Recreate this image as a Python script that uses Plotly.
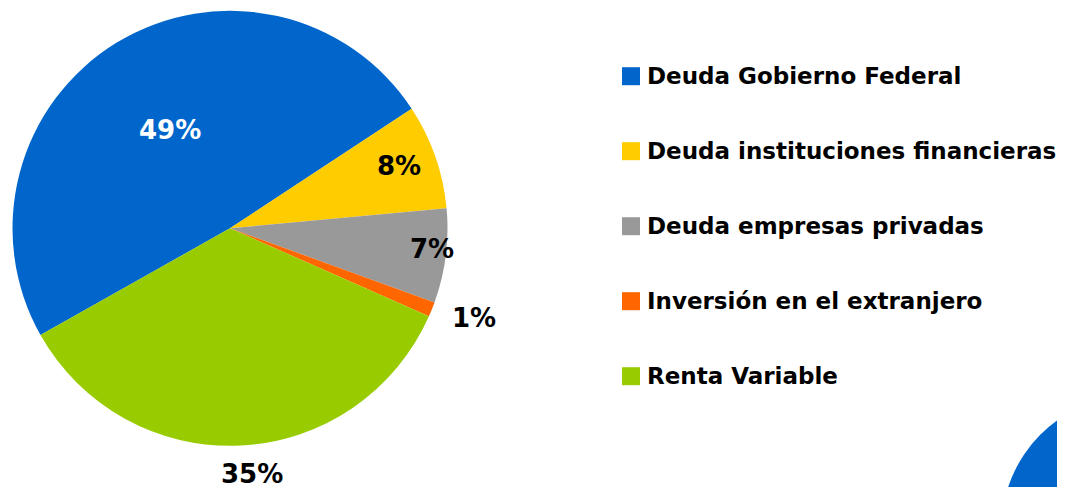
import math
import plotly.graph_objects as go

# ---- data ----
categories = [
    "Deuda Gobierno Federal",
    "Deuda instituciones financieras",
    "Deuda empresas privadas",
    "Inversión en el extranjero",
    "Renta Variable",
]
values = [48.9, 7.8, 7.0, 1.1, 35.2]
pct_labels = ["49%", "8%", "7%", "1%", "35%"]

# ---- style ----
colors = ["#0066CC", "#FFCC00", "#999999", "#FF6600", "#99CC00"]
label_colors = ["#FFFFFF", "#000000", "#000000", "#000000", "#000000"]
label_radius = [0.531, 0.830, 0.934, 1.194, 1.132]   # fraction of pie radius
label_angle_shift = [0.0, -1.0, -1.5, -1.6, -2.4]    # degrees
rotation = 240.6

W, H = 1065, 487
OFF = 8.0  # page body margin compensation (px)

def X(px):
    return (px - OFF) / W

def Y(py):
    return 1 - (py - OFF) / H

cx, cy, R = 230.0, 228.3, 217.5   # pie centre / radius in page px

fig = go.Figure(
    go.Pie(
        labels=categories,
        values=values,
        marker=dict(colors=colors, line=dict(width=0)),
        sort=False,
        direction="clockwise",
        rotation=rotation,
        textinfo="none",
        domain=dict(x=[X(cx - R), X(cx + R)], y=[Y(cy + R), Y(cy - R)]),
        showlegend=False,
    )
)

annotations = []
total = sum(values)
start = rotation
for v, lab, col, rf, sh in zip(values, pct_labels, label_colors, label_radius, label_angle_shift):
    span = v / total * 360.0
    mid = math.radians(start + span / 2 + sh)
    px = cx + rf * R * math.sin(mid)
    py = cy - rf * R * math.cos(mid)
    annotations.append(dict(
        x=X(px), y=Y(py), xref="paper", yref="paper",
        text=lab, showarrow=False, xanchor="center", yanchor="middle",
        font=dict(family="DejaVu Sans", size=26, color=col, weight="bold"),
    ))
    start += span

# manual legend
shapes = []
leg_x, leg_y0, leg_step, sq = 622, 76.2, 75.0, 18
for i, (cat, col) in enumerate(zip(categories, colors)):
    yc = leg_y0 + i * leg_step
    shapes.append(dict(
        type="rect", xref="paper", yref="paper",
        x0=X(leg_x), x1=X(leg_x + sq),
        y0=Y(yc + sq / 2), y1=Y(yc - sq / 2),
        fillcolor=col, line=dict(width=0),
    ))
    annotations.append(dict(
        x=X(leg_x + sq + 5), y=Y(yc), xref="paper", yref="paper",
        text=cat, showarrow=False, xanchor="left", yanchor="middle",
        font=dict(family="DejaVu Sans", size=23, color="#000000", weight="bold"),
    ))

# decorative circle at bottom right
ccx, ccy, cr = 1134.5, 528.6, 133.0
shapes.append(dict(
    type="circle", xref="paper", yref="paper",
    x0=X(ccx - cr), x1=X(ccx + cr),
    y0=Y(ccy + cr), y1=Y(ccy - cr),
    fillcolor="#0066CC", line=dict(width=0),
))

fig.update_layout(
    width=W, height=H,
    margin=dict(l=0, r=0, t=0, b=0),
    paper_bgcolor="white", plot_bgcolor="white",
    annotations=annotations, shapes=shapes,
    showlegend=False,
)

fig.write_html("out.html")
